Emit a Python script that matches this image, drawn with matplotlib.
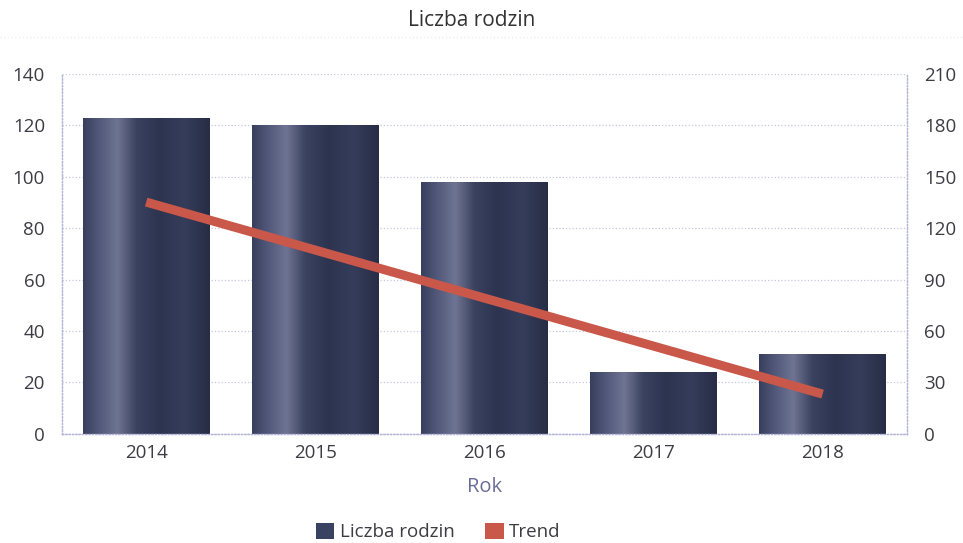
import numpy as np
import matplotlib.pyplot as plt
from matplotlib.patches import Patch
from matplotlib.colors import LinearSegmentedColormap
from matplotlib.lines import Line2D

plt.rcParams['font.family'] = ['Open Sans', 'DejaVu Sans']

years = ['2014', '2015', '2016', '2017', '2018']
families = [123, 120, 98, 24, 31]
trend = [135.2, 107.2, 79.2, 51.2, 23.2]

bar_cmap = LinearSegmentedColormap.from_list(
    'barshade', [(0.0, '#383f5e'), (0.14, '#555b7c'), (0.27, '#6f7493'),
                 (0.42, '#3b4260'), (0.6, '#2d3450'), (0.8, '#363d5a'),
                 (1.0, '#272d46')])

fig = plt.figure(figsize=(9.63, 5.43), dpi=100)
ax = fig.add_axes([0.064, 0.201, 0.878, 0.663])
ax2 = ax.twinx()

x = np.arange(len(years))
bars = ax.bar(x, families, width=0.75, color='none', edgecolor='none', zorder=2)
grad = np.linspace(0, 1, 256).reshape(1, -1)
for b in bars:
    x0, w, h = b.get_x(), b.get_width(), b.get_height()
    im = ax.imshow(grad, cmap=bar_cmap, aspect='auto', extent=[x0, x0 + w, 0, h],
                   zorder=2, interpolation='bicubic')
    im.set_clip_path(b)

ax2.plot(x, trend, color='#c9584b', linewidth=6.5, solid_capstyle='butt', zorder=3)

ax.set_xlim(-0.5, 4.5)
ax.set_ylim(0, 140)
ax.set_yticks(np.arange(0, 141, 20))
ax2.set_ylim(0, 210)
ax2.set_yticks(np.arange(0, 211, 30))
ax.set_xticks(x)
ax.set_xticklabels(years)

ax.grid(axis='y', color='#c8c8dc', linestyle=':', linewidth=0.9, zorder=0)
ax.set_axisbelow(True)
for a in (ax, ax2):
    for s in a.spines.values():
        s.set_linestyle(':')
        s.set_color('#b4b4d8')
        s.set_linewidth(0.9)
    a.spines['top'].set_visible(False)
    a.tick_params(length=0, labelsize=13.5, labelcolor='#3c3c44')
ax.tick_params(axis='y', pad=12)
ax2.tick_params(axis='y', pad=12)
ax.tick_params(axis='x', pad=7)

ax.set_xlabel('Rok', fontsize=14.5, color='#6a6c98', labelpad=11)
fig.text(0.49, 0.962, 'Liczba rodzin', ha='center', va='center', fontsize=15, color='#333333')
fig.add_artist(Line2D([0.0, 1.0], [0.932, 0.932], color='#ececf0', linewidth=1,
                      linestyle=':', transform=fig.transFigure))

handles = [Patch(facecolor='#3a4262', edgecolor='none', label='Liczba rodzin'),
           Patch(facecolor='#c9584b', edgecolor='none', label='Trend')]
fig.legend(handles=handles, loc='center', bbox_to_anchor=(0.455, 0.02), ncol=2,
           frameon=False, fontsize=13.5, handlelength=1.0, handleheight=0.9,
           handletextpad=0.3, columnspacing=1.6, labelcolor='#3c3c44')

plt.savefig('out.png', dpi=100)
